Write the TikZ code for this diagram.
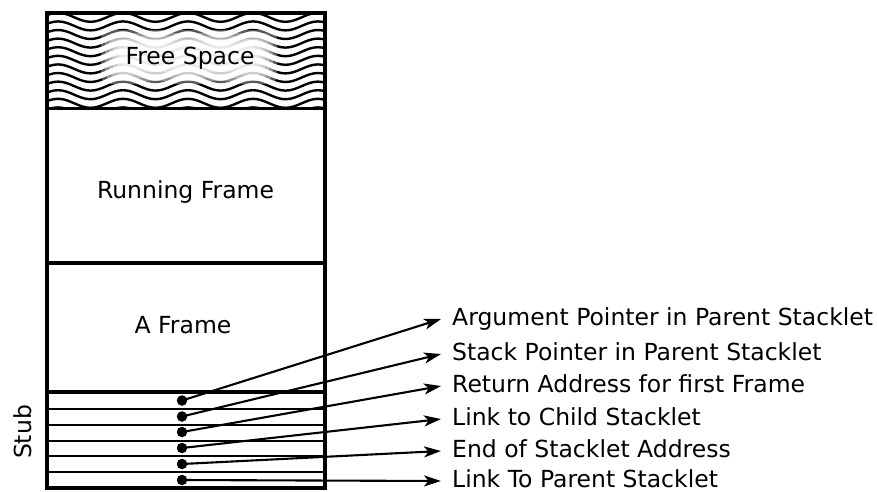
\documentclass[tikz,border=0pt]{standalone}
\usepackage{fontspec}
\setmainfont{DejaVu Sans}
\usetikzlibrary{arrows.meta}
\begin{document}
\begin{tikzpicture}[x=1pt,y=-1pt,
  outline/.style={line width=4pt},
  divider/.style={line width=3.3pt},
  slot/.style={line width=2pt},
  wave/.style={line width=2.4pt},
  caption/.style={font=\fontsize{23.5}{28}\selectfont, inner sep=0pt},
  field/.style={font=\fontsize{23.5}{28}\selectfont, anchor=base west,
    inner xsep=11pt, inner ysep=0pt, text height=17pt, text depth=5pt},
  pin/.style={circle, fill=black, inner sep=0pt, minimum size=10.5pt},
  pointer/.style={line width=2.1pt, -{Stealth[length=17pt,width=11pt,inset=4.5pt]}}
]
\useasboundingbox (0,0) rectangle (877,491);

% wavy hatching of the free space: wavelength 65, amplitude 4.5
\begin{scope}
  \clip (46.5,13) rectangle (324.5,108.5);
  \foreach \k in {0,...,11}{
    \pgfmathsetmacro{\crest}{12.8+8.6*\k}
    \draw[wave] (-7,\crest)
      \foreach \i in {1,...,6}{
        cos ++(16.25,4.5) sin ++(16.25,4.5) cos ++(16.25,-4.5) sin ++(16.25,-4.5)
      };
  }
  % soft white haze behind the caption
  \foreach \w/\h in {88/27, 84/24, 80/21, 76/18, 72/15, 68/12}{
    \fill[white, opacity=0.34, rounded corners=9pt]
      (189-\w,57-\h) rectangle (189+\w,57+\h);
  }
\end{scope}
\node[caption, anchor=base] (free) at (190,64) {Free Space};

% stack outline and frame boundaries
\draw[outline] (46.5,13) rectangle (324.5,488);
\draw[divider] (46.5,108.5) -- (324.5,108.5);
\draw[divider] (46.5,263) -- (324.5,263);
\draw[divider] (46.5,392) -- (324.5,392);
\foreach \y in {409,424.5,440.5,456,472}{
  \draw[slot] (46.5,\y) -- (324.5,\y);
}

\node[caption, anchor=base] (running) at (185.5,198) {Running Frame};
\node[caption, anchor=base] (aframe) at (183,333) {A Frame};
\node[caption, rotate=90] (stub) at (23,432) {Stub};

% stub slots
\node[pin] (d1) at (182,400.5) {};
\node[pin] (d2) at (182,416.5) {};
\node[pin] (d3) at (182,432) {};
\node[pin] (d4) at (182,448) {};
\node[pin] (d5) at (182,464) {};
\node[pin] (d6) at (182,480) {};

% slot descriptions
\node[field] (l1) at (441,325) {Argument Pointer in Parent Stacklet};
\node[field] (l2) at (441,360) {Stack Pointer in Parent Stacklet};
\node[field] (l3) at (441,392) {Return Address for first Frame};
\node[field] (l4) at (441,425) {Link to Child Stacklet};
\node[field] (l5) at (441,457) {End of Stacklet Address};
\node[field] (l6) at (441,487) {Link To Parent Stacklet};

\draw[pointer] (d1.center) -- (l1.west);
\draw[pointer] (d2.center) -- (l2.west);
\draw[pointer] (d3.center) -- (l3.west);
\draw[pointer] (d4.center) -- (l4.west);
\draw[pointer] (d5.center) -- (l5.west);
\draw[pointer] (d6.center) -- (l6.west);
\end{tikzpicture}
\end{document}
